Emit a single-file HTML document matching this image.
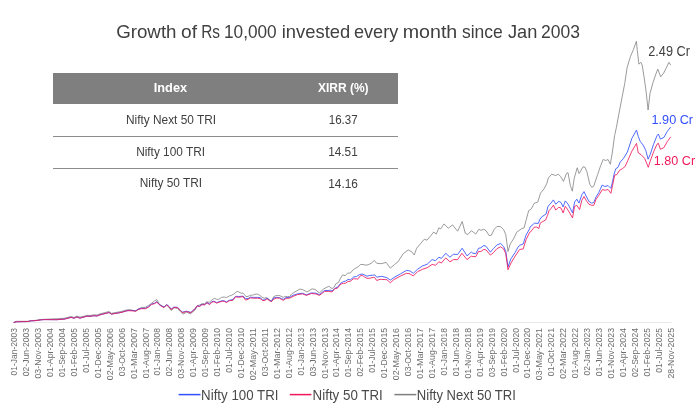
<!DOCTYPE html>
<html><head><meta charset="utf-8"><style>
*{margin:0;padding:0}
html,body{width:700px;height:411px;background:#fff;overflow:hidden}
body{position:relative;font-family:"Liberation Sans",sans-serif}
svg{position:absolute;left:0;top:0;will-change:transform}
</style></head><body>
<svg width="700" height="411" viewBox="0 0 700 411" font-family="Liberation Sans, sans-serif">
<rect x="53" y="73" width="345" height="31" fill="#7f7f7f"/>
<rect x="53" y="136" width="345" height="1" fill="#8c8c8c"/>
<rect x="53" y="168" width="345" height="1" fill="#8c8c8c"/>
<line x1="13.6" y1="322.5" x2="671.4" y2="322.5" stroke="#e8e8e8" stroke-width="1"/>
<g fill="none" stroke-linejoin="round" stroke-linecap="round">
<polyline points="14.0,322.4 16.3,321.3 28.1,321.3 30.4,320.7 35.9,320.3 41.4,319.5 44.6,319.3 57.1,318.7 60.0,318.5 64.0,318.3 68.0,317.3 71.0,316.5 74.0,317.5 77.0,316.1 80.0,317.1 83.0,316.5 87.0,315.3 90.0,315.5 94.0,314.8 97.0,315.1 100.0,313.8 104.0,312.8 108.0,311.8 109.0,311.5 111.5,313.3 114.0,312.8 118.0,312.1 122.0,311.3 126.0,310.1 128.0,309.7 131.1,309.9 135.7,311.4 138.3,309.0 141.4,307.5 145.5,307.3 148.6,305.4 151.7,303.2 154.7,300.8 156.8,299.5 158.9,303.4 160.9,305.4 164.0,307.3 166.6,304.9 168.6,307.0 171.2,310.6 174.3,307.7 177.4,308.5 180.5,311.6 183.0,314.2 186.6,312.1 190.2,313.9 193.8,311.1 195.0,310.2 197.2,305.8 199.4,305.1 202.3,303.6 204.5,303.8 207.0,301.6 209.2,302.4 211.8,300.0 214.3,298.3 216.5,299.2 218.4,299.5 221.6,297.4 224.2,297.0 226.4,297.6 229.3,296.0 231.5,295.2 233.7,294.1 237.0,291.4 238.8,291.9 241.0,293.2 243.0,293.1 244.5,294.6 245.9,296.6 248.1,296.4 250.3,295.3 252.5,295.2 255.0,294.2 257.6,294.2 259.8,295.3 262.0,297.2 264.2,298.2 266.4,297.5 268.2,298.8 270.0,300.1 271.5,301.3 273.7,296.6 275.8,295.7 278.8,295.3 281.0,296.2 283.1,297.4 285.3,296.4 287.5,296.6 289.7,296.4 291.5,294.2 293.0,293.1 299.7,289.1 302.6,289.5 307.0,292.0 312.1,288.8 315.0,289.5 319.4,292.9 323.8,288.8 328.9,286.2 330.0,287.1 332.0,288.6 333.9,287.6 335.8,283.7 338.3,282.7 340.2,278.8 342.6,274.9 345.1,275.6 347.5,273.3 350.4,273.0 353.3,269.6 355.8,268.1 358.2,266.7 360.6,264.5 363.1,264.5 366.0,265.2 368.9,264.5 371.8,262.8 374.3,260.4 376.7,263.3 380.0,263.6 381.8,263.6 386.1,262.4 390.3,268.2 394.6,264.4 398.0,261.8 403.1,253.8 408.2,249.9 411.6,251.6 414.2,255.0 416.7,248.2 421.0,243.1 424.4,239.2 427.0,240.2 431.2,235.1 433.8,232.0 436.3,234.1 438.9,227.8 440.6,229.0 444.0,223.9 448.3,228.3 452.5,224.9 457.6,231.2 462.2,221.5 465.3,233.4 467.8,234.6 471.3,230.7 472.9,231.8 475.8,234.0 478.8,229.3 480.9,230.3 483.9,229.3 486.1,230.8 489.0,235.4 491.2,235.4 494.1,229.6 497.0,226.4 500.7,226.7 503.6,229.6 505.8,234.7 508.0,251.5 510.1,244.2 513.8,238.4 516.7,232.2 521.4,228.8 524.1,227.9 526.0,220.6 528.7,210.6 531.4,208.8 534.2,203.3 537.8,202.0 540.5,193.2 544.2,188.7 546.9,183.2 548.3,178.0 551.8,174.2 555.7,175.6 558.3,174.2 560.6,176.5 563.5,181.4 566.4,173.6 568.0,172.6 570.3,185.3 572.3,191.2 574.2,178.5 577.2,167.8 579.1,173.6 583.0,166.8 585.0,167.2 586.9,171.7 589.8,184.3 591.8,187.3 593.7,186.3 597.6,174.6 600.6,165.8 603.2,159.4 605.4,160.5 608.1,159.6 610.3,164.3 612.4,152.0 614.6,135.6 616.4,127.4 618.5,116.0 621.7,99.3 624.7,83.7 627.2,67.2 630.5,56.4 633.4,49.6 636.4,41.2 637.3,50.6 638.9,64.2 640.8,62.3 642.2,65.2 644.2,77.9 646.1,91.5 648.1,110.0 650.0,93.5 652.9,82.8 655.9,74.0 657.8,69.1 660.7,76.9 663.7,73.0 666.6,67.2 668.9,62.3 670.5,64.8" stroke="#898989" stroke-width="0.85"/>
<polyline points="14.0,322.4 16.3,321.8 28.1,321.5 30.4,320.9 35.9,320.6 41.4,319.8 44.6,319.6 57.1,319.7 60.0,319.4 64.0,319.2 68.0,318.2 71.0,317.4 74.0,318.2 77.0,317.0 80.0,318.2 83.0,317.2 87.0,316.2 90.0,316.4 94.0,315.7 97.0,316.0 100.0,314.8 104.0,313.8 108.0,312.8 109.0,312.5 111.5,314.2 114.0,313.6 118.0,313.0 122.0,312.2 126.0,311.0 128.0,310.6 131.1,310.4 135.7,310.7 138.3,309.1 141.4,308.3 145.5,308.3 148.6,306.6 151.7,304.0 154.7,303.2 156.8,301.7 158.9,304.0 160.9,305.5 164.0,307.1 166.6,304.5 169.2,306.6 171.2,309.1 173.8,307.1 177.4,307.3 180.5,310.2 182.5,312.2 186.6,311.2 190.8,312.4 193.8,309.7 195.0,309.1 197.2,305.8 199.4,306.2 201.9,304.3 204.5,304.6 207.0,302.5 209.6,304.1 211.8,301.6 214.0,301.2 216.5,302.5 219.1,301.8 222.0,300.7 224.2,300.9 226.4,301.9 229.3,300.3 233.0,299.6 235.5,296.3 238.8,296.5 243.0,296.1 245.6,298.6 248.1,298.6 250.3,297.2 253.2,297.4 257.6,297.4 260.2,297.7 262.7,300.1 264.9,299.7 267.1,298.2 269.3,300.1 271.5,301.2 273.7,297.9 276.6,297.4 279.5,297.7 281.7,298.8 283.5,299.3 286.1,297.5 289.7,297.4 293.0,295.3 297.5,293.9 302.6,293.2 306.3,294.9 311.4,292.9 315.8,293.2 319.4,294.6 324.5,290.5 328.9,290.5 330.0,290.0 332.0,291.0 333.9,289.5 335.8,287.6 337.8,287.1 340.7,283.2 343.6,281.5 345.6,281.1 348.0,279.5 350.4,279.8 353.8,276.9 356.3,276.6 359.7,274.5 362.1,274.0 364.5,274.9 367.0,276.2 369.9,275.4 372.8,275.2 374.7,274.9 376.7,277.2 380.0,276.6 381.8,276.3 386.9,277.7 390.3,280.1 393.7,277.7 400.6,273.8 406.5,270.4 409.9,270.9 413.3,273.3 417.6,269.2 422.7,265.8 427.0,264.4 432.1,259.6 435.5,260.7 438.9,257.2 441.4,258.4 445.7,253.3 450.0,257.2 453.4,254.2 457.6,254.5 462.2,248.2 467.0,255.9 471.3,252.1 472.9,253.2 475.8,253.7 478.5,248.3 480.9,247.8 483.9,245.4 486.1,246.4 490.4,252.2 493.4,248.6 497.0,244.9 500.7,243.5 503.6,246.4 505.8,251.5 508.0,266.8 510.9,258.8 515.3,252.2 517.5,248.0 519.6,245.3 523.2,244.0 526.0,235.2 529.6,228.8 530.0,227.1 534.4,223.2 538.3,223.4 539.7,219.8 541.7,216.9 546.1,214.0 548.0,206.2 550.0,204.3 553.4,199.9 555.8,204.3 558.7,201.3 561.0,202.5 563.1,206.9 565.3,200.9 568.1,204.2 572.5,212.9 574.6,202.0 576.8,199.2 579.0,203.1 581.8,194.9 584.0,191.6 586.1,196.0 588.9,201.4 591.6,203.1 593.8,202.5 596.0,197.0 598.7,192.7 602.1,185.1 604.8,186.5 608.1,185.6 610.9,188.4 612.5,181.8 614.1,174.1 615.8,168.7 618.0,167.3 620.2,162.1 623.6,158.3 627.4,152.0 631.9,138.3 636.5,130.1 638.3,136.5 640.1,141.2 643.1,145.0 645.8,150.5 648.1,159.2 650.2,154.4 653.6,144.2 657.0,135.7 658.4,134.0 660.4,139.1 663.9,137.4 667.3,131.4 670.5,127.3" stroke="#3350ff" stroke-width="0.85"/>
<polyline points="14.0,322.4 16.3,321.8 28.1,321.5 30.4,320.9 35.9,320.6 41.4,319.8 44.6,319.6 57.1,319.7 60.0,319.4 64.0,319.2 68.0,318.2 71.0,317.4 74.0,318.2 77.0,317.0 80.0,318.2 83.0,317.2 87.0,316.2 90.0,316.4 94.0,315.7 97.0,316.0 100.0,314.8 104.0,313.8 108.0,312.8 109.0,312.5 111.5,314.2 114.0,313.6 118.0,313.0 122.0,312.2 126.0,311.0 128.0,310.6 131.1,310.8 135.7,311.1 138.3,309.5 141.4,308.7 145.5,308.7 148.6,307.0 151.7,304.4 154.7,303.6 156.8,302.1 158.9,304.4 160.9,305.9 164.0,307.5 166.6,304.9 169.2,307.0 171.2,309.5 173.8,307.5 177.4,307.7 180.5,310.6 182.5,312.6 186.6,311.6 190.8,312.8 193.8,310.1 195.0,308.7 197.2,305.8 199.7,306.5 201.9,304.7 204.5,304.9 207.0,302.9 209.6,304.6 211.8,302.2 214.0,301.6 216.5,303.1 219.1,302.2 222.0,301.2 224.2,301.4 226.4,302.5 229.3,300.7 233.0,300.2 235.5,296.8 238.8,297.3 243.0,296.6 245.6,300.1 248.1,299.3 250.3,297.9 253.2,298.2 257.6,298.2 260.2,298.6 262.7,300.6 264.9,300.4 267.1,298.8 269.3,300.6 271.5,301.5 273.7,299.1 276.6,298.1 279.5,298.2 281.7,299.6 283.5,300.3 286.1,298.4 289.7,298.2 293.0,296.4 297.5,294.6 302.6,293.9 306.3,295.4 311.4,293.5 315.8,293.9 319.4,295.4 324.5,291.4 328.9,291.4 330.0,291.5 332.0,292.0 334.9,288.6 337.3,288.3 340.7,284.2 343.6,283.2 345.6,283.2 348.0,281.5 350.4,281.3 353.3,278.8 356.3,278.8 357.7,279.3 360.2,275.9 362.1,275.4 364.5,276.9 367.0,278.3 369.9,278.2 373.3,277.4 374.7,277.6 376.7,280.5 380.0,279.3 381.8,279.4 386.9,279.7 390.3,282.8 393.7,279.7 400.6,276.0 406.5,273.3 409.9,273.8 413.3,276.0 417.6,271.6 422.7,269.2 427.0,267.8 432.1,264.4 435.5,265.3 438.9,261.8 441.4,263.0 445.7,257.9 450.0,261.8 453.4,259.6 457.6,259.6 461.9,253.3 467.0,259.6 471.3,256.2 472.9,256.6 475.8,256.6 478.5,251.5 480.9,251.5 483.9,249.3 486.1,250.0 490.4,255.1 493.4,252.7 497.0,248.6 500.7,246.8 503.6,248.9 505.8,253.7 508.0,269.7 510.9,263.2 515.3,255.9 519.6,249.5 523.2,248.9 526.0,239.8 529.6,232.5 530.0,232.5 534.4,227.1 536.8,227.1 538.8,228.6 540.2,223.2 542.2,221.8 545.6,220.1 547.5,215.4 549.0,210.6 550.9,208.6 553.4,205.2 555.8,210.1 558.7,207.2 561.0,208.0 563.1,212.9 565.3,206.4 568.1,210.2 572.5,217.9 574.6,206.4 576.8,205.3 579.6,209.6 581.8,200.3 584.0,196.5 586.1,200.3 588.9,204.2 591.6,205.3 593.8,205.3 596.0,199.5 598.7,195.5 602.3,189.7 605.4,190.2 608.1,189.5 610.9,193.3 612.5,185.6 614.7,175.2 616.9,174.5 619.6,170.3 622.4,168.7 625.1,166.5 627.8,160.5 631.9,151.1 636.5,143.4 638.3,152.9 641.1,154.7 644.7,158.4 648.3,167.3 650.2,161.2 653.6,151.8 657.0,144.2 658.4,143.3 660.4,149.3 663.9,147.6 667.3,141.6 670.5,137.2" stroke="#f0185a" stroke-width="0.85"/>
</g>
<g font-size="8.9" fill="#6e6e6e">
<text x="17.20" y="328.0" transform="rotate(-90 17.20 328.0)" text-anchor="end" textLength="47.43" lengthAdjust="spacingAndGlyphs">01-Jan-2003</text>
<text x="29.14" y="328.0" transform="rotate(-90 29.14 328.0)" text-anchor="end" textLength="48.24" lengthAdjust="spacingAndGlyphs">02-Jun-2003</text>
<text x="41.07" y="328.0" transform="rotate(-90 41.07 328.0)" text-anchor="end" textLength="50.50" lengthAdjust="spacingAndGlyphs">03-Nov-2003</text>
<text x="53.01" y="328.0" transform="rotate(-90 53.01 328.0)" text-anchor="end" textLength="48.87" lengthAdjust="spacingAndGlyphs">01-Apr-2004</text>
<text x="64.94" y="328.0" transform="rotate(-90 64.94 328.0)" text-anchor="end" textLength="49.09" lengthAdjust="spacingAndGlyphs">01-Sep-2004</text>
<text x="76.88" y="328.0" transform="rotate(-90 76.88 328.0)" text-anchor="end" textLength="48.60" lengthAdjust="spacingAndGlyphs">01-Feb-2005</text>
<text x="88.82" y="328.0" transform="rotate(-90 88.82 328.0)" text-anchor="end" textLength="44.83" lengthAdjust="spacingAndGlyphs">01-Jul-2005</text>
<text x="100.75" y="328.0" transform="rotate(-90 100.75 328.0)" text-anchor="end" textLength="49.89" lengthAdjust="spacingAndGlyphs">01-Dec-2005</text>
<text x="112.69" y="328.0" transform="rotate(-90 112.69 328.0)" text-anchor="end" textLength="52.28" lengthAdjust="spacingAndGlyphs">02-May-2006</text>
<text x="124.62" y="328.0" transform="rotate(-90 124.62 328.0)" text-anchor="end" textLength="48.16" lengthAdjust="spacingAndGlyphs">03-Oct-2006</text>
<text x="136.56" y="328.0" transform="rotate(-90 136.56 328.0)" text-anchor="end" textLength="50.72" lengthAdjust="spacingAndGlyphs">01-Mar-2007</text>
<text x="148.50" y="328.0" transform="rotate(-90 148.50 328.0)" text-anchor="end" textLength="50.20" lengthAdjust="spacingAndGlyphs">01-Aug-2007</text>
<text x="160.43" y="328.0" transform="rotate(-90 160.43 328.0)" text-anchor="end" textLength="47.43" lengthAdjust="spacingAndGlyphs">01-Jan-2008</text>
<text x="172.37" y="328.0" transform="rotate(-90 172.37 328.0)" text-anchor="end" textLength="48.24" lengthAdjust="spacingAndGlyphs">02-Jun-2008</text>
<text x="184.30" y="328.0" transform="rotate(-90 184.30 328.0)" text-anchor="end" textLength="50.50" lengthAdjust="spacingAndGlyphs">03-Nov-2008</text>
<text x="196.24" y="328.0" transform="rotate(-90 196.24 328.0)" text-anchor="end" textLength="48.87" lengthAdjust="spacingAndGlyphs">01-Apr-2009</text>
<text x="208.18" y="328.0" transform="rotate(-90 208.18 328.0)" text-anchor="end" textLength="49.09" lengthAdjust="spacingAndGlyphs">01-Sep-2009</text>
<text x="220.11" y="328.0" transform="rotate(-90 220.11 328.0)" text-anchor="end" textLength="48.60" lengthAdjust="spacingAndGlyphs">01-Feb-2010</text>
<text x="232.05" y="328.0" transform="rotate(-90 232.05 328.0)" text-anchor="end" textLength="44.83" lengthAdjust="spacingAndGlyphs">01-Jul-2010</text>
<text x="243.98" y="328.0" transform="rotate(-90 243.98 328.0)" text-anchor="end" textLength="49.89" lengthAdjust="spacingAndGlyphs">01-Dec-2010</text>
<text x="255.92" y="328.0" transform="rotate(-90 255.92 328.0)" text-anchor="end" textLength="52.28" lengthAdjust="spacingAndGlyphs">02-May-2011</text>
<text x="267.86" y="328.0" transform="rotate(-90 267.86 328.0)" text-anchor="end" textLength="48.16" lengthAdjust="spacingAndGlyphs">03-Oct-2011</text>
<text x="279.79" y="328.0" transform="rotate(-90 279.79 328.0)" text-anchor="end" textLength="50.72" lengthAdjust="spacingAndGlyphs">01-Mar-2012</text>
<text x="291.73" y="328.0" transform="rotate(-90 291.73 328.0)" text-anchor="end" textLength="50.20" lengthAdjust="spacingAndGlyphs">01-Aug-2012</text>
<text x="303.66" y="328.0" transform="rotate(-90 303.66 328.0)" text-anchor="end" textLength="47.43" lengthAdjust="spacingAndGlyphs">01-Jan-2013</text>
<text x="315.60" y="328.0" transform="rotate(-90 315.60 328.0)" text-anchor="end" textLength="48.24" lengthAdjust="spacingAndGlyphs">03-Jun-2013</text>
<text x="327.54" y="328.0" transform="rotate(-90 327.54 328.0)" text-anchor="end" textLength="50.50" lengthAdjust="spacingAndGlyphs">01-Nov-2013</text>
<text x="339.47" y="328.0" transform="rotate(-90 339.47 328.0)" text-anchor="end" textLength="48.87" lengthAdjust="spacingAndGlyphs">01-Apr-2014</text>
<text x="351.41" y="328.0" transform="rotate(-90 351.41 328.0)" text-anchor="end" textLength="49.09" lengthAdjust="spacingAndGlyphs">01-Sep-2014</text>
<text x="363.34" y="328.0" transform="rotate(-90 363.34 328.0)" text-anchor="end" textLength="48.60" lengthAdjust="spacingAndGlyphs">02-Feb-2015</text>
<text x="375.28" y="328.0" transform="rotate(-90 375.28 328.0)" text-anchor="end" textLength="44.83" lengthAdjust="spacingAndGlyphs">01-Jul-2015</text>
<text x="387.22" y="328.0" transform="rotate(-90 387.22 328.0)" text-anchor="end" textLength="49.89" lengthAdjust="spacingAndGlyphs">01-Dec-2015</text>
<text x="399.15" y="328.0" transform="rotate(-90 399.15 328.0)" text-anchor="end" textLength="52.28" lengthAdjust="spacingAndGlyphs">02-May-2016</text>
<text x="411.09" y="328.0" transform="rotate(-90 411.09 328.0)" text-anchor="end" textLength="48.16" lengthAdjust="spacingAndGlyphs">03-Oct-2016</text>
<text x="423.02" y="328.0" transform="rotate(-90 423.02 328.0)" text-anchor="end" textLength="50.72" lengthAdjust="spacingAndGlyphs">01-Mar-2017</text>
<text x="434.96" y="328.0" transform="rotate(-90 434.96 328.0)" text-anchor="end" textLength="50.20" lengthAdjust="spacingAndGlyphs">01-Aug-2017</text>
<text x="446.90" y="328.0" transform="rotate(-90 446.90 328.0)" text-anchor="end" textLength="47.43" lengthAdjust="spacingAndGlyphs">01-Jan-2018</text>
<text x="458.83" y="328.0" transform="rotate(-90 458.83 328.0)" text-anchor="end" textLength="48.24" lengthAdjust="spacingAndGlyphs">01-Jun-2018</text>
<text x="470.77" y="328.0" transform="rotate(-90 470.77 328.0)" text-anchor="end" textLength="50.50" lengthAdjust="spacingAndGlyphs">01-Nov-2018</text>
<text x="482.70" y="328.0" transform="rotate(-90 482.70 328.0)" text-anchor="end" textLength="48.87" lengthAdjust="spacingAndGlyphs">01-Apr-2019</text>
<text x="494.64" y="328.0" transform="rotate(-90 494.64 328.0)" text-anchor="end" textLength="49.09" lengthAdjust="spacingAndGlyphs">03-Sep-2019</text>
<text x="506.58" y="328.0" transform="rotate(-90 506.58 328.0)" text-anchor="end" textLength="48.60" lengthAdjust="spacingAndGlyphs">01-Feb-2020</text>
<text x="518.51" y="328.0" transform="rotate(-90 518.51 328.0)" text-anchor="end" textLength="44.83" lengthAdjust="spacingAndGlyphs">01-Jul-2020</text>
<text x="530.45" y="328.0" transform="rotate(-90 530.45 328.0)" text-anchor="end" textLength="49.89" lengthAdjust="spacingAndGlyphs">01-Dec-2020</text>
<text x="542.38" y="328.0" transform="rotate(-90 542.38 328.0)" text-anchor="end" textLength="52.28" lengthAdjust="spacingAndGlyphs">03-May-2021</text>
<text x="554.32" y="328.0" transform="rotate(-90 554.32 328.0)" text-anchor="end" textLength="48.16" lengthAdjust="spacingAndGlyphs">01-Oct-2021</text>
<text x="566.26" y="328.0" transform="rotate(-90 566.26 328.0)" text-anchor="end" textLength="50.72" lengthAdjust="spacingAndGlyphs">02-Mar-2022</text>
<text x="578.19" y="328.0" transform="rotate(-90 578.19 328.0)" text-anchor="end" textLength="50.20" lengthAdjust="spacingAndGlyphs">01-Aug-2022</text>
<text x="590.13" y="328.0" transform="rotate(-90 590.13 328.0)" text-anchor="end" textLength="47.43" lengthAdjust="spacingAndGlyphs">02-Jan-2023</text>
<text x="602.06" y="328.0" transform="rotate(-90 602.06 328.0)" text-anchor="end" textLength="48.24" lengthAdjust="spacingAndGlyphs">01-Jun-2023</text>
<text x="614.00" y="328.0" transform="rotate(-90 614.00 328.0)" text-anchor="end" textLength="50.50" lengthAdjust="spacingAndGlyphs">01-Nov-2023</text>
<text x="625.94" y="328.0" transform="rotate(-90 625.94 328.0)" text-anchor="end" textLength="48.87" lengthAdjust="spacingAndGlyphs">01-Apr-2024</text>
<text x="637.87" y="328.0" transform="rotate(-90 637.87 328.0)" text-anchor="end" textLength="49.09" lengthAdjust="spacingAndGlyphs">02-Sep-2024</text>
<text x="649.81" y="328.0" transform="rotate(-90 649.81 328.0)" text-anchor="end" textLength="48.60" lengthAdjust="spacingAndGlyphs">01-Feb-2025</text>
<text x="661.74" y="328.0" transform="rotate(-90 661.74 328.0)" text-anchor="end" textLength="44.83" lengthAdjust="spacingAndGlyphs">01-Jul-2025</text>
<text x="673.68" y="328.0" transform="rotate(-90 673.68 328.0)" text-anchor="end" textLength="50.50" lengthAdjust="spacingAndGlyphs">28-Nov-2025</text>
</g>
<line x1="178.6" y1="394.6" x2="200.5" y2="394.6" stroke="#3350ff" stroke-width="1.5"/>
<line x1="289.8" y1="394.6" x2="311.4" y2="394.6" stroke="#f0185a" stroke-width="1.5"/>
<line x1="394.4" y1="394.6" x2="416.3" y2="394.6" stroke="#7f7f7f" stroke-width="1.5"/>
<text x="116.16" y="38.0" font-size="17.9" fill="#404040" textLength="60.36" lengthAdjust="spacingAndGlyphs">Growth</text>
<text x="181.00" y="38.0" font-size="17.9" fill="#404040" textLength="15.98" lengthAdjust="spacingAndGlyphs">of</text>
<text x="201.24" y="38.0" font-size="17.9" fill="#404040" textLength="18.82" lengthAdjust="spacingAndGlyphs">Rs</text>
<text x="223.99" y="38.0" font-size="17.9" fill="#404040" textLength="52.68" lengthAdjust="spacingAndGlyphs">10,000</text>
<text x="281.77" y="38.0" font-size="17.9" fill="#404040" textLength="68.41" lengthAdjust="spacingAndGlyphs">invested</text>
<text x="354.03" y="38.0" font-size="17.9" fill="#404040" textLength="44.20" lengthAdjust="spacingAndGlyphs">every</text>
<text x="402.70" y="38.0" font-size="17.9" fill="#404040" textLength="54.58" lengthAdjust="spacingAndGlyphs">month</text>
<text x="462.01" y="38.0" font-size="17.9" fill="#404040" textLength="40.76" lengthAdjust="spacingAndGlyphs">since</text>
<text x="508.02" y="38.0" font-size="17.9" fill="#404040" textLength="29.37" lengthAdjust="spacingAndGlyphs">Jan</text>
<text x="541.02" y="38.0" font-size="17.9" fill="#404040" textLength="38.95" lengthAdjust="spacingAndGlyphs">2003</text>
<text x="153.75" y="91.9" font-size="11.9" font-weight="bold" fill="#ffffff" textLength="33.35" lengthAdjust="spacingAndGlyphs">Index</text>
<text x="317.89" y="91.5" font-size="12.3" font-weight="bold" fill="#ffffff" textLength="50.70" lengthAdjust="spacingAndGlyphs">XIRR (%)</text>
<text x="125.93" y="123.7" font-size="12.2" fill="#404040" textLength="90.16" lengthAdjust="spacingAndGlyphs">Nifty Next 50 TRI</text>
<text x="328.72" y="123.6" font-size="12.1" fill="#404040" textLength="28.96" lengthAdjust="spacingAndGlyphs">16.37</text>
<text x="136.13" y="155.7" font-size="12.2" fill="#404040" textLength="68.96" lengthAdjust="spacingAndGlyphs">Nifty 100 TRI</text>
<text x="328.20" y="156.0" font-size="12.1" fill="#404040" textLength="29.58" lengthAdjust="spacingAndGlyphs">14.51</text>
<text x="139.73" y="187.4" font-size="12.2" fill="#404040" textLength="62.46" lengthAdjust="spacingAndGlyphs">Nifty 50 TRI</text>
<text x="328.20" y="187.5" font-size="12.1" fill="#404040" textLength="29.73" lengthAdjust="spacingAndGlyphs">14.16</text>
<text x="648.26" y="55.7" font-size="13.9" fill="#404040" textLength="41.75" lengthAdjust="spacingAndGlyphs">2.49 Cr</text>
<text x="651.53" y="123.7" font-size="13.6" fill="#3350ff" textLength="41.58" lengthAdjust="spacingAndGlyphs">1.90 Cr</text>
<text x="653.84" y="165.3" font-size="13.6" fill="#f0185a" textLength="41.27" lengthAdjust="spacingAndGlyphs">1.80 Cr</text>
<text x="201.11" y="399.9" font-size="14.2" fill="#4a4a4a" textLength="77.31" lengthAdjust="spacingAndGlyphs">Nifty 100 TRI</text>
<text x="312.61" y="399.9" font-size="14.2" fill="#4a4a4a" textLength="70.12" lengthAdjust="spacingAndGlyphs">Nifty 50 TRI</text>
<text x="416.83" y="399.9" font-size="14.2" fill="#4a4a4a" textLength="98.97" lengthAdjust="spacingAndGlyphs">Nifty Next 50 TRI</text>
</svg>
</body></html>
